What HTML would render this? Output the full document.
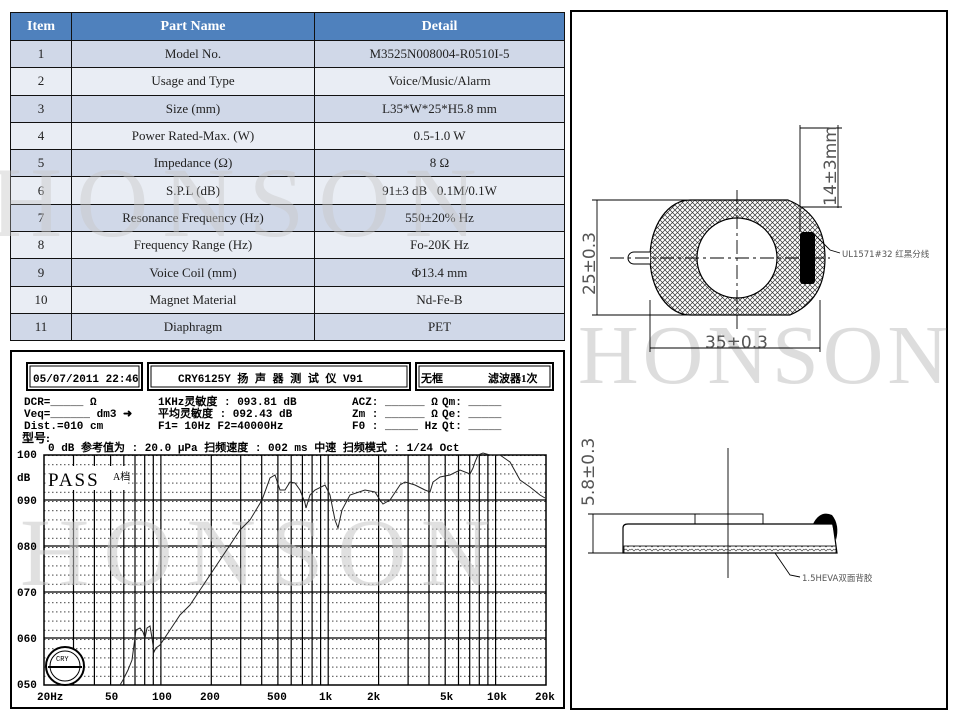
<!DOCTYPE html>
<html><head><meta charset="utf-8"><style>
body{margin:0;width:960px;height:720px;background:#fff;overflow:hidden;position:relative;font-family:"Liberation Serif","Noto Serif CJK SC",serif}
table{position:absolute;left:10px;top:12px;border-collapse:collapse;width:555px;font-size:13px;color:#222}
td,th{border:1.5px solid #111;text-align:center;padding:0;height:26.3px}
th{background:#4f81bd;color:#fff;font-weight:bold;font-size:14px}
tr.a td{background:#d0d8e8}tr.b td{background:#e9edf4}
.wm{position:absolute;font-family:"Liberation Serif",serif;font-size:96px;color:#c8c8c8;opacity:.45;letter-spacing:6px;white-space:nowrap}
</style></head><body>
<table>
<tr><th style="width:60px;height:27px">Item</th><th style="width:242px">Part Name</th><th>Detail</th></tr>
<tr class="a"><td>1</td><td>Model No.</td><td>M3525N008004-R0510I-5</td></tr>
<tr class="b"><td>2</td><td>Usage and Type</td><td>Voice/Music/Alarm</td></tr>
<tr class="a"><td>3</td><td>Size (mm)</td><td>L35*W*25*H5.8 mm</td></tr>
<tr class="b"><td>4</td><td>Power Rated-Max. (W)</td><td>0.5-1.0 W</td></tr>
<tr class="a"><td>5</td><td>Impedance (Ω)</td><td>8 Ω</td></tr>
<tr class="b"><td>6</td><td>S.P.L (dB)</td><td>91±3 dB &nbsp; 0.1M/0.1W</td></tr>
<tr class="a"><td>7</td><td>Resonance Frequency (Hz)</td><td>550±20% Hz</td></tr>
<tr class="b"><td>8</td><td>Frequency Range (Hz)</td><td>Fo-20K Hz</td></tr>
<tr class="a"><td>9</td><td>Voice Coil (mm)</td><td>Φ13.4 mm</td></tr>
<tr class="b"><td>10</td><td>Magnet Material</td><td>Nd-Fe-B</td></tr>
<tr class="a"><td>11</td><td>Diaphragm</td><td>PET</td></tr>
</table>
<div class="wm" style="left:-10px;top:145px;font-size:100px;letter-spacing:14px">HONSON</div>

<svg style="position:absolute;left:0;top:0" width="960" height="720">
<defs>
<pattern id="dots" width="4" height="9.2" patternUnits="userSpaceOnUse" y="455"><rect width="1.5" height="1" fill="#444"/></pattern>
<pattern id="hatch" width="5" height="5" patternUnits="userSpaceOnUse"><path d="M0 0L5 5M5 0L0 5" stroke="#333" stroke-width="0.7"/></pattern>
<pattern id="foam" width="6" height="4" patternUnits="userSpaceOnUse"><path d="M0 2l2-1 2 2 2-2" stroke="#444" fill="none" stroke-width="0.7"/></pattern>
</defs>
<rect x="11" y="351" width="553" height="357" fill="#fff" stroke="#000" stroke-width="2"/>
<g fill="none" stroke="#000">
<rect x="27" y="363" width="115" height="27" stroke-width="2"/><rect x="30" y="366" width="109" height="21"/>
<rect x="148" y="363" width="262" height="27" stroke-width="2"/><rect x="151" y="366" width="256" height="21"/>
<rect x="416" y="363" width="137" height="27" stroke-width="2"/><rect x="419" y="366" width="131" height="21"/>
</g>
<rect x="44" y="455" width="502" height="230" fill="url(#dots)"/>
<g stroke="#000" stroke-width="1.2">
<line x1="73.5" y1="455" x2="73.5" y2="685"/><line x1="94.4" y1="455" x2="94.4" y2="685"/><line x1="110.6" y1="455" x2="110.6" y2="685"/><line x1="123.8" y1="455" x2="123.8" y2="685"/><line x1="135" y1="455" x2="135" y2="685"/><line x1="144.7" y1="455" x2="144.7" y2="685"/><line x1="153.3" y1="455" x2="153.3" y2="685"/><line x1="160.9" y1="455" x2="160.9" y2="685"/>
<line x1="211.3" y1="455" x2="211.3" y2="685"/><line x1="240.7" y1="455" x2="240.7" y2="685"/><line x1="261.7" y1="455" x2="261.7" y2="685"/><line x1="277.9" y1="455" x2="277.9" y2="685"/><line x1="291.2" y1="455" x2="291.2" y2="685"/><line x1="302.4" y1="455" x2="302.4" y2="685"/><line x1="312.1" y1="455" x2="312.1" y2="685"/><line x1="320.6" y1="455" x2="320.6" y2="685"/><line x1="328.2" y1="455" x2="328.2" y2="685"/>
<line x1="378.6" y1="455" x2="378.6" y2="685"/><line x1="408.1" y1="455" x2="408.1" y2="685"/><line x1="429" y1="455" x2="429" y2="685"/><line x1="445.2" y1="455" x2="445.2" y2="685"/><line x1="458.5" y1="455" x2="458.5" y2="685"/><line x1="469.7" y1="455" x2="469.7" y2="685"/><line x1="479.3" y1="455" x2="479.3" y2="685"/><line x1="487.9" y1="455" x2="487.9" y2="685"/><line x1="495.6" y1="455" x2="495.6" y2="685"/>
<line x1="44" y1="500" x2="546" y2="500"/><line x1="44" y1="546" x2="546" y2="546"/><line x1="44" y1="592" x2="546" y2="592"/><line x1="44" y1="638" x2="546" y2="638"/>
</g>
<rect x="44" y="455" width="502" height="230" fill="none" stroke="#000" stroke-width="1.5"/>
<text x="20" y="585" font-family="Liberation Serif" font-size="96" fill="#c8c8c8" opacity="0.55" letter-spacing="14">HONSON</text>
<rect x="46" y="466" width="82" height="24" fill="#fff"/>
<text x="48" y="486" font-family="Liberation Serif" font-size="19" letter-spacing="2">PASS</text>
<text x="113" y="480" font-family="WenQuanYi Zen Hei" font-size="10">A档</text>
<polyline fill="none" stroke="#222" stroke-width="1" points="120,685 123,680 128,670 132,660 134,645 136,630 140,628 143,632 145,638 147,628 150,626 152,638 154,652 156,648 160,645 170,630 180,615 190,605 200,590 210,575 220,560 230,545 240,530 250,520 262,500 270,478 275,475 280,490 285,490 290,482 295,483 300,490 305,503 306,508 310,495 315,490 325,485 330,495 335,520 338,528 342,510 350,495 365,490 375,492 380,500 383,504 390,500 400,485 405,482 415,485 425,490 430,492 433,482 440,477 450,475 460,470 470,474 473,468 475,462 478,455 483,453 490,455 500,455 510,462 520,480 530,487 540,495 545,498"/>
<circle cx="65" cy="666" r="19" fill="#fff" stroke="#000" stroke-width="2"/><circle cx="65" cy="666" r="15" fill="none" stroke="#000"/>
<line x1="48" y1="667" x2="82" y2="667" stroke="#000" stroke-width="2"/>
<text x="56" y="661" font-size="7" font-family="Liberation Mono">CRY</text>
<g font-family="Liberation Mono" font-weight="bold" font-size="11" fill="#000">
<text x="33" y="382">05/07/2011 22:46</text>
<text x="178" y="382" font-family="Liberation Mono,WenQuanYi Zen Hei">CRY6125Y 扬 声 器 测 试 仪  V91</text>
<text x="421" y="382" font-family="WenQuanYi Zen Hei">无框</text><text x="488" y="382" font-family="WenQuanYi Zen Hei">滤波器1次</text>
<text x="24" y="405">DCR=_____ Ω</text><text x="24" y="417">Veq=______ dm3  ➜</text><text x="24" y="429">Dist.=010 cm</text>
<text x="158" y="405" font-family="Liberation Mono,WenQuanYi Zen Hei">1KHz灵敏度 : 093.81 dB</text>
<text x="158" y="417" font-family="Liberation Mono,WenQuanYi Zen Hei">平均灵敏度 : 092.43 dB</text>
<text x="158" y="429">F1=   10Hz  F2=40000Hz</text>
<text x="352" y="405">ACZ: ______ Ω</text><text x="352" y="417">Zm : ______ Ω</text><text x="352" y="429">F0 : _____ Hz</text>
<text x="442" y="405">Qm: _____</text><text x="442" y="417">Qe: _____</text><text x="442" y="429">Qt: _____</text>
<text x="22" y="442" font-family="WenQuanYi Zen Hei" font-size="12">型号:</text>
<text x="48" y="451" font-family="Liberation Mono,WenQuanYi Zen Hei">0 dB 参考值为 : 20.0 μPa   扫频速度 : 002 ms 中速  扫频模式 : 1/24 Oct</text>
<text x="17" y="458">100</text><text x="17" y="481">dB</text><text x="17" y="504">090</text><text x="17" y="550">080</text><text x="17" y="596">070</text><text x="17" y="642">060</text><text x="17" y="688">050</text>
<text x="37" y="700">20Hz</text><text x="105" y="700">50</text><text x="152" y="700">100</text><text x="200" y="700">200</text><text x="267" y="700">500</text><text x="319" y="700">1k</text><text x="367" y="700">2k</text><text x="440" y="700">5k</text><text x="487" y="700">10k</text><text x="535" y="700">20k</text>
</g>

<rect x="571" y="11" width="376" height="698" fill="none" stroke="#000" stroke-width="2"/>
<text x="578" y="383" font-family="Liberation Serif" font-size="84" fill="#d0d0d0" opacity="0.7" letter-spacing="4">HONSON</text>
<path d="M690 200 L788 200 Q825 215 825 258 Q825 300 790 315 L690 315 A40 57.5 0 0 1 690 200Z" fill="url(#hatch)" stroke="#000" stroke-width="1.2"/>
<circle cx="737" cy="258" r="40" fill="#fff" stroke="#000" stroke-width="1.2"/>
<rect x="800" y="232" width="15" height="52" rx="3" fill="#000"/>
<path d="M650 252 L634 252 A6 6 0 0 0 634 264 L650 264" fill="#fff" stroke="#000"/>
<g stroke="#000" fill="none" stroke-width="0.9">
<line x1="610" y1="258" x2="830" y2="258" stroke-dasharray="14,4,3,4"/>
<line x1="737" y1="190" x2="737" y2="330" stroke-dasharray="14,4,3,4"/>
<line x1="597" y1="200" x2="597" y2="315"/><line x1="592" y1="200" x2="690" y2="200"/><line x1="592" y1="315" x2="690" y2="315"/>
<line x1="650" y1="300" x2="650" y2="352"/><line x1="820" y1="300" x2="820" y2="352"/><line x1="650" y1="348" x2="820" y2="348"/>
<line x1="800" y1="125" x2="800" y2="232"/><line x1="838" y1="125" x2="838" y2="208"/><line x1="800" y1="128" x2="842" y2="128"/><line x1="800" y1="207" x2="842" y2="207"/>
<polyline points="815,235 830,250 840,253"/>
<line x1="593" y1="514" x2="593" y2="553"/><line x1="588" y1="514" x2="700" y2="514"/><line x1="588" y1="553" x2="625" y2="553"/>
<line x1="728" y1="448" x2="728" y2="578"/>
<rect x="695" y="514" width="68" height="10"/>
<path d="M623 553 L623 528 Q623 524 628 524 L833 524 L837 553 Z" stroke-width="1.2"/>
<polyline points="775,553 790,575 800,577"/>
</g>
<rect x="624" y="546" width="212" height="7" fill="url(#foam)" stroke="#000" stroke-width="0.8"/>
<path d="M813 524 Q820 510 832 515 Q840 525 836 540 L832 524Z" fill="#000"/>
<g font-family="DejaVu Sans" fill="#555">
<text transform="translate(595,295) rotate(-90)" font-size="17">25±0.3</text>
<text x="705" y="348" font-size="17">35±0.3</text>
<text transform="translate(836,206) rotate(-90)" font-size="17">14±3mm</text>
<text transform="translate(594,506) rotate(-90)" font-size="17">5.8±0.3</text>
<text x="842" y="257" font-size="8.5" font-family="DejaVu Sans,WenQuanYi Zen Hei">UL1571#32 红黑分线</text>
<text x="802" y="581" font-size="8.5" font-family="DejaVu Sans,WenQuanYi Zen Hei">1.5HEVA双面背胶</text>
</g>
</svg>
</body></html>
